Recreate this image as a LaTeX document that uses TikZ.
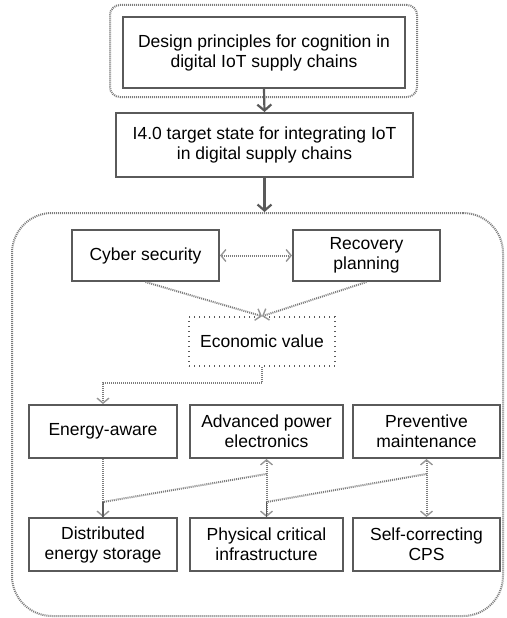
\documentclass[tikz,border=0pt]{standalone}
\usepackage{fontspec}
\setmainfont{Liberation Sans}
\usetikzlibrary{arrows.meta,calc}
\definecolor{boxgray}{HTML}{5A5A5A}
\definecolor{dotgray}{HTML}{7C7C7C}
\tikzset{
  txt/.style={font=\fontsize{17.5}{20}\selectfont, align=center, text=black},
  box/.style={txt, draw=boxgray, line width=2pt, inner sep=0pt},
  frame/.style={draw=dotgray, line width=2pt, dash pattern=on 1pt off 1pt, inner sep=0pt},
  dotbox/.style={txt, draw=boxgray, line width=1.6pt, dash pattern=on 1pt off 4pt, inner sep=0pt},
  solidarrow/.style={draw=boxgray, line width=2.2pt, -{Straight Barb[length=6pt,width=14pt,line width=2.2pt]}},
  dotline/.style={draw=dotgray, line width=2pt, dash pattern=on 1pt off 1pt},
  dtip/.tip={Straight Barb[length=5pt,width=12pt,line width=1.4pt,color=dotgray!80]},
}
\begin{document}
\begin{tikzpicture}[x=1pt,y=-1pt]
\useasboundingbox (0,0) rectangle (506,618);
% frames
\node[frame, rounded corners=10pt, minimum width=307pt, minimum height=92pt] (topframe) at (263.5,51) {};
\node[frame, rounded corners=40pt, minimum width=491pt, minimum height=403pt] (container) at (257.5,414.5) {};
% top boxes
\node[box, minimum width=282pt, minimum height=71pt] (design) at (264,52.5) {Design principles for cognition in\\digital IoT supply chains};
\node[box, minimum width=297pt, minimum height=64pt] (target) at (264.5,145) {I4.0 target state for integrating IoT\\in digital supply chains};
% inner boxes
\node[box, minimum width=147pt, minimum height=51pt] (cyber) at (145.5,255.5) {Cyber security};
\node[box, minimum width=147pt, minimum height=51pt] (recovery) at (366.5,255.5) {Recovery\\planning};
\node[dotbox, minimum width=146pt, minimum height=49pt] (econ) at (262,341.5) {Economic value};
\node[box, minimum width=148pt, minimum height=53pt] (energy) at (103,431.5) {Energy-aware};
\node[box, minimum width=153pt, minimum height=53pt] (adv) at (266.5,431.5) {Advanced power\\electronics};
\node[box, minimum width=147pt, minimum height=53pt] (prev) at (426.5,431.5) {Preventive\\maintenance};
\node[box, minimum width=148pt, minimum height=53pt] (dist) at (103,544.5) {Distributed\\energy storage};
\node[box, minimum width=153pt, minimum height=53pt] (phys) at (266.5,544.5) {Physical critical\\infrastructure};
\node[box, minimum width=147pt, minimum height=53pt] (self) at (426.5,544.5) {Self-correcting\\CPS};
% solid arrows
\draw[solidarrow] (design.south) -- (target.north);
\draw[solidarrow] (target.south) -- (target.south |- container.north);
% dotted connectors
\draw[dotline, dtip-dtip] (cyber.east) -- (recovery.west);
\draw[dotline, -dtip] (cyber.south) -- (econ.north);
\draw[dotline, -dtip] (recovery.south) -- (econ.north);
\coordinate (ebend) at ($(econ.south)+(0,16)$);
\draw[dotline, -dtip] (econ.south) -- (ebend) -| (energy.north);
\draw[dotline, -dtip] (energy.south) -- (dist.north);
\draw[dotline, dtip-dtip] (adv.south) -- (phys.north);
\draw[dotline, dtip-dtip] (prev.south) -- (self.north);
\coordinate (a1) at ($(adv.south)+(0,15)$);
\coordinate (b1) at ($(dist.north)+(0,-15)$);
\coordinate (a2) at ($(prev.south)+(0,15)$);
\coordinate (b2) at ($(phys.north)+(0,-15)$);
\draw[dotline] (a1) -- (b1);
\draw[dotline] (a2) -- (b2);
\draw[draw=boxgray, line width=1.8pt] (b1) -- (dist.north);
\draw[draw=boxgray, line width=1.8pt] (b2) -- (phys.north);
\end{tikzpicture}
\end{document}
